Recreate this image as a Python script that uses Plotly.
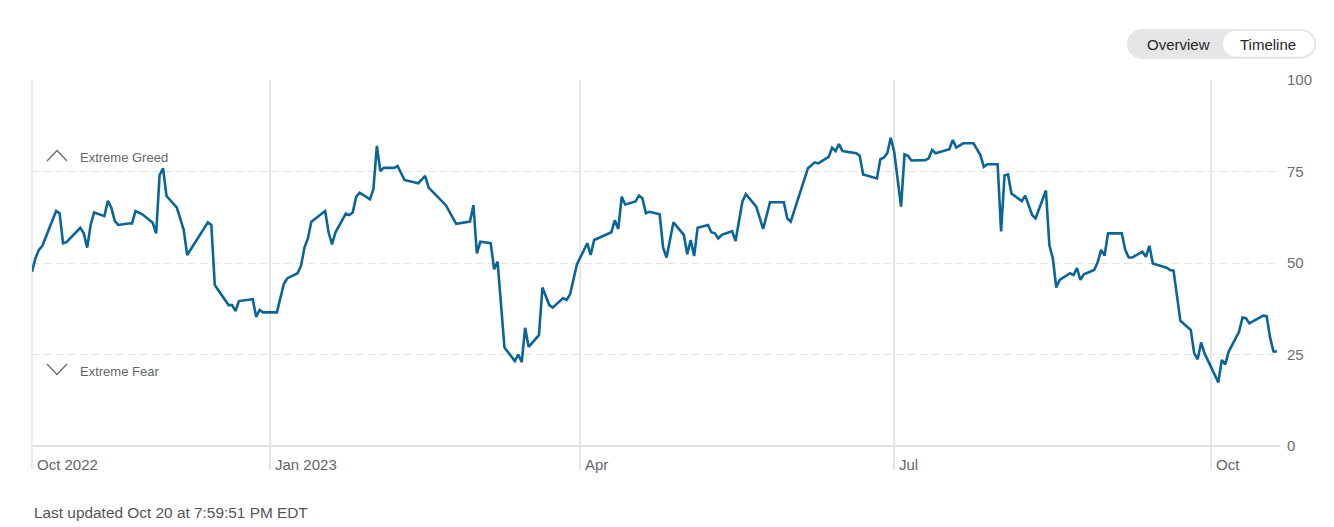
import plotly.graph_objects as go

# ---- data ----
dates = [
    "2022-10-24", "2022-10-25", "2022-10-26", "2022-10-27", "2022-10-31", "2022-11-01", "2022-11-02", "2022-11-03",
    "2022-11-07", "2022-11-08", "2022-11-09", "2022-11-10", "2022-11-11", "2022-11-14", "2022-11-15", "2022-11-16",
    "2022-11-17", "2022-11-18", "2022-11-21", "2022-11-22", "2022-11-23", "2022-11-25", "2022-11-28", "2022-11-29",
    "2022-11-30", "2022-12-01", "2022-12-02", "2022-12-05", "2022-12-07", "2022-12-08", "2022-12-14", "2022-12-15",
    "2022-12-16", "2022-12-20", "2022-12-21", "2022-12-22", "2022-12-23", "2022-12-27", "2022-12-28", "2022-12-29",
    "2022-12-30", "2023-01-03", "2023-01-05", "2023-01-06", "2023-01-09", "2023-01-10", "2023-01-11", "2023-01-12",
    "2023-01-13", "2023-01-17", "2023-01-18", "2023-01-19", "2023-01-20", "2023-01-23", "2023-01-24", "2023-01-25",
    "2023-01-26", "2023-01-27", "2023-01-30", "2023-01-31", "2023-02-01", "2023-02-02", "2023-02-03", "2023-02-06",
    "2023-02-07", "2023-02-09", "2023-02-13", "2023-02-15", "2023-02-16", "2023-02-21", "2023-02-24", "2023-02-28",
    "2023-03-01", "2023-03-02", "2023-03-03", "2023-03-06", "2023-03-07", "2023-03-08", "2023-03-10", "2023-03-13",
    "2023-03-14", "2023-03-15", "2023-03-16", "2023-03-17", "2023-03-20", "2023-03-21", "2023-03-23", "2023-03-24",
    "2023-03-27", "2023-03-28", "2023-03-29", "2023-03-31", "2023-04-03", "2023-04-04", "2023-04-05", "2023-04-10",
    "2023-04-11", "2023-04-12", "2023-04-13", "2023-04-14", "2023-04-17", "2023-04-18", "2023-04-19", "2023-04-20",
    "2023-04-21", "2023-04-24", "2023-04-25", "2023-04-26", "2023-04-28", "2023-05-01", "2023-05-02", "2023-05-03",
    "2023-05-04", "2023-05-05", "2023-05-08", "2023-05-09", "2023-05-10", "2023-05-11", "2023-05-12", "2023-05-15",
    "2023-05-16", "2023-05-18", "2023-05-19", "2023-05-22", "2023-05-24", "2023-05-26", "2023-05-30", "2023-05-31",
    "2023-06-01", "2023-06-05", "2023-06-06", "2023-06-08", "2023-06-09", "2023-06-12", "2023-06-13", "2023-06-14",
    "2023-06-15", "2023-06-16", "2023-06-20", "2023-06-21", "2023-06-22", "2023-06-26", "2023-06-27", "2023-06-28",
    "2023-06-29", "2023-06-30", "2023-07-01", "2023-07-03", "2023-07-04", "2023-07-05", "2023-07-06", "2023-07-10",
    "2023-07-11", "2023-07-12", "2023-07-13", "2023-07-17", "2023-07-18", "2023-07-19", "2023-07-20", "2023-07-21",
    "2023-07-24", "2023-07-25", "2023-07-26", "2023-07-27", "2023-07-28", "2023-07-31", "2023-08-01", "2023-08-02",
    "2023-08-03", "2023-08-04", "2023-08-07", "2023-08-08", "2023-08-09", "2023-08-10", "2023-08-11", "2023-08-14",
    "2023-08-15", "2023-08-16", "2023-08-17", "2023-08-18", "2023-08-21", "2023-08-22", "2023-08-23", "2023-08-24",
    "2023-08-25", "2023-08-28", "2023-08-29", "2023-08-30", "2023-08-31", "2023-09-01", "2023-09-05", "2023-09-06",
    "2023-09-07", "2023-09-08", "2023-09-11", "2023-09-12", "2023-09-13", "2023-09-14", "2023-09-18", "2023-09-19",
    "2023-09-20", "2023-09-22", "2023-09-25", "2023-09-26", "2023-09-27", "2023-09-28", "2023-09-29", "2023-10-03",
    "2023-10-04", "2023-10-05", "2023-10-06", "2023-10-09", "2023-10-10", "2023-10-11", "2023-10-12", "2023-10-16",
    "2023-10-17", "2023-10-18", "2023-10-19", "2023-10-20",
]
index_values = [
    47.6, 51.3, 53.6, 54.7, 64.2, 63.6, 55.4, 55.7,
    59.6, 58.1, 54.2, 60.4, 63.8, 62.8, 67.0, 65.1,
    61.5, 60.4, 60.8, 60.8, 64.2, 63.3, 61.0, 58.1,
    74.0, 75.9, 68.3, 65.1, 59.0, 52.2, 61.1, 60.4,
    44.0, 38.5, 38.5, 36.9, 39.6, 40.1, 35.3, 37.2,
    36.5, 36.5, 44.2, 45.8, 47.2, 49.2, 54.2, 56.7,
    61.3, 64.2, 58.4, 55.1, 58.4, 63.5, 63.1, 63.8,
    68.1, 69.2, 67.4, 70.2, 82.0, 75.1, 76.0, 76.0,
    76.5, 72.7, 71.8, 73.8, 70.6, 65.8, 60.7, 61.3,
    65.8, 52.6, 55.8, 55.4, 48.3, 50.4, 26.9, 23.2,
    25.0, 22.9, 32.3, 27.1, 30.3, 43.3, 38.5, 37.8,
    40.4, 39.9, 41.4, 49.6, 55.4, 52.2, 56.3, 58.4,
    61.7, 59.3, 68.1, 66.0, 66.8, 68.4, 67.7, 63.6,
    64.0, 63.3, 54.2, 51.5, 61.1, 57.7, 52.4, 56.3,
    51.9, 59.6, 60.4, 58.4, 58.1, 56.7, 57.7, 58.7,
    56.0, 66.8, 68.8, 65.4, 59.3, 66.6, 66.6, 62.2,
    61.3, 73.1, 75.9, 77.5, 77.2, 79.0, 81.5, 80.6,
    82.5, 80.6, 80.0, 79.3, 74.2, 73.1, 78.4, 78.8,
    80.0, 84.2, 80.4, 65.4, 79.7, 79.3, 78.0, 78.1,
    78.6, 80.9, 80.0, 81.1, 83.6, 81.5, 82.0, 82.7,
    82.7, 80.9, 79.5, 76.3, 77.0, 77.0, 58.6, 73.9,
    74.2, 69.0, 66.9, 68.4, 65.8, 63.1, 62.2, 69.8,
    54.9, 51.3, 43.3, 45.4, 47.2, 46.7, 48.6, 45.4,
    46.9, 48.1, 50.2, 53.6, 52.0, 58.1, 58.1, 53.6,
    51.5, 51.5, 53.1, 51.7, 54.7, 49.9, 48.7, 48.1,
    47.9, 34.2, 31.7, 25.3, 23.7, 28.3, 25.3, 17.4,
    23.5, 22.3, 25.8, 31.2, 35.1, 34.9, 33.5, 35.6,
    35.5, 29.6, 25.8, 25.8,
]

x_tick_dates = ["2022-10-24", "2023-01-01", "2023-04-01", "2023-07-01", "2023-10-01"]
x_tick_labels = ["Oct 2022", "Jan 2023", "Apr", "Jul", "Oct"]
y_tick_values = [0, 25, 50, 75, 100]
x_range = ["2022-10-24", "2023-10-20 21:00"]

# ---- layout geometry (pixels) ----
W, H = 1334, 527
PL, PR, PT, PB = 32, 1280, 80, 470   # plot area edges
Y_MIN = -(PB - 446) / ((446 - PT) / 100.0)


def px(x):
    return (x - PL) / (PR - PL)


def py(y):
    return (PB - y) / (PB - PT)


FONT = "Liberation Sans, Arial, Helvetica, sans-serif"
LINE_COLOR = "#0b6596"
GRID = "#e6e6e6"

fig = go.Figure()
fig.add_trace(go.Scatter(
    x=dates, y=index_values, mode="lines",
    line=dict(color=LINE_COLOR, width=2.6),
    hoverinfo="skip",
))

shapes = []
# left border line
shapes.append(dict(type="line", xref="paper", yref="paper", x0=0, x1=0, y0=0, y1=1,
                   line=dict(color=GRID, width=1.5), layer="below"))

# chevrons
chev = dict(color="#6b6b6b", width=1.3)
shapes.append(dict(type="path", xref="paper", yref="paper",
                   path=f"M {px(47)},{py(161)} L {px(57)},{py(150.5)} L {px(67)},{py(161)}",
                   line=chev))
shapes.append(dict(type="path", xref="paper", yref="paper",
                   path=f"M {px(47)},{py(364)} L {px(57)},{py(374.5)} L {px(67)},{py(364)}",
                   line=chev))


def pill(x0, x1, y0, y1, color):
    r = (y1 - y0) / 2.0
    out = [
        dict(type="rect", xref="paper", yref="paper", x0=px(x0 + r), x1=px(x1 - r), y0=py(y1), y1=py(y0),
             fillcolor=color, line=dict(width=0)),
        dict(type="circle", xref="paper", yref="paper", x0=px(x0), x1=px(x0 + 2 * r), y0=py(y1), y1=py(y0),
             fillcolor=color, line=dict(width=0)),
        dict(type="circle", xref="paper", yref="paper", x0=px(x1 - 2 * r), x1=px(x1), y0=py(y1), y1=py(y0),
             fillcolor=color, line=dict(width=0)),
    ]
    return out


shapes += pill(1127, 1316, 29, 59, "#e6e6e6")
shapes += pill(1223, 1314, 31, 56.5, "#ffffff")

annotations = []
for d, t in zip(x_tick_dates, x_tick_labels):
    annotations.append(dict(x=d, xref="x", y=py(464), yref="paper", text=t, showarrow=False,
                            xanchor="left", yanchor="middle", xshift=3,
                            font=dict(family=FONT, size=15, color="#666666")))

annotations += [
    dict(x=px(78), y=py(157.5), xref="paper", yref="paper", text="Extreme Greed", showarrow=False,
         xanchor="left", yanchor="middle", font=dict(family=FONT, size=13, color="#666666")),
    dict(x=px(78), y=py(371.5), xref="paper", yref="paper", text="Extreme Fear", showarrow=False,
         xanchor="left", yanchor="middle", font=dict(family=FONT, size=13, color="#666666")),
    dict(x=px(1178), y=py(44), xref="paper", yref="paper", text="Overview", showarrow=False,
         xanchor="center", yanchor="middle", font=dict(family=FONT, size=15, color="#262626")),
    dict(x=px(1268), y=py(44), xref="paper", yref="paper", text="Timeline", showarrow=False,
         xanchor="center", yanchor="middle", font=dict(family=FONT, size=15, color="#262626")),
    dict(x=px(32), y=py(512), xref="paper", yref="paper", text="Last updated Oct 20 at 7:59:51 PM EDT",
         showarrow=False, xanchor="left", yanchor="middle",
         font=dict(family=FONT, size=15.4, color="#555555")),
]

fig.update_layout(
    width=W, height=H,
    margin=dict(l=PL, r=W - PR, t=PT, b=H - PB, pad=0),
    paper_bgcolor="white", plot_bgcolor="white",
    showlegend=False,
    font=dict(family=FONT),
    shapes=shapes,
    annotations=annotations,
    xaxis=dict(
        type="date", range=x_range, tickvals=x_tick_dates, showticklabels=False,
        showgrid=True, gridcolor=GRID, gridwidth=1.5, zeroline=False, showline=False, ticks="",
        fixedrange=True,
    ),
    yaxis=dict(
        range=[Y_MIN, 100], side="right", tickvals=y_tick_values,
        showgrid=True, gridcolor="#e2e2e2", gridwidth=1, griddash="7px,5px",
        zeroline=True, zerolinecolor="#e2e2e2", zerolinewidth=1.5,
        showline=False, ticks="", ticklabelstandoff=6,
        tickfont=dict(family=FONT, size=15, color="#6e6e6e"),
        fixedrange=True,
    ),
)

fig.write_html("out.html")
